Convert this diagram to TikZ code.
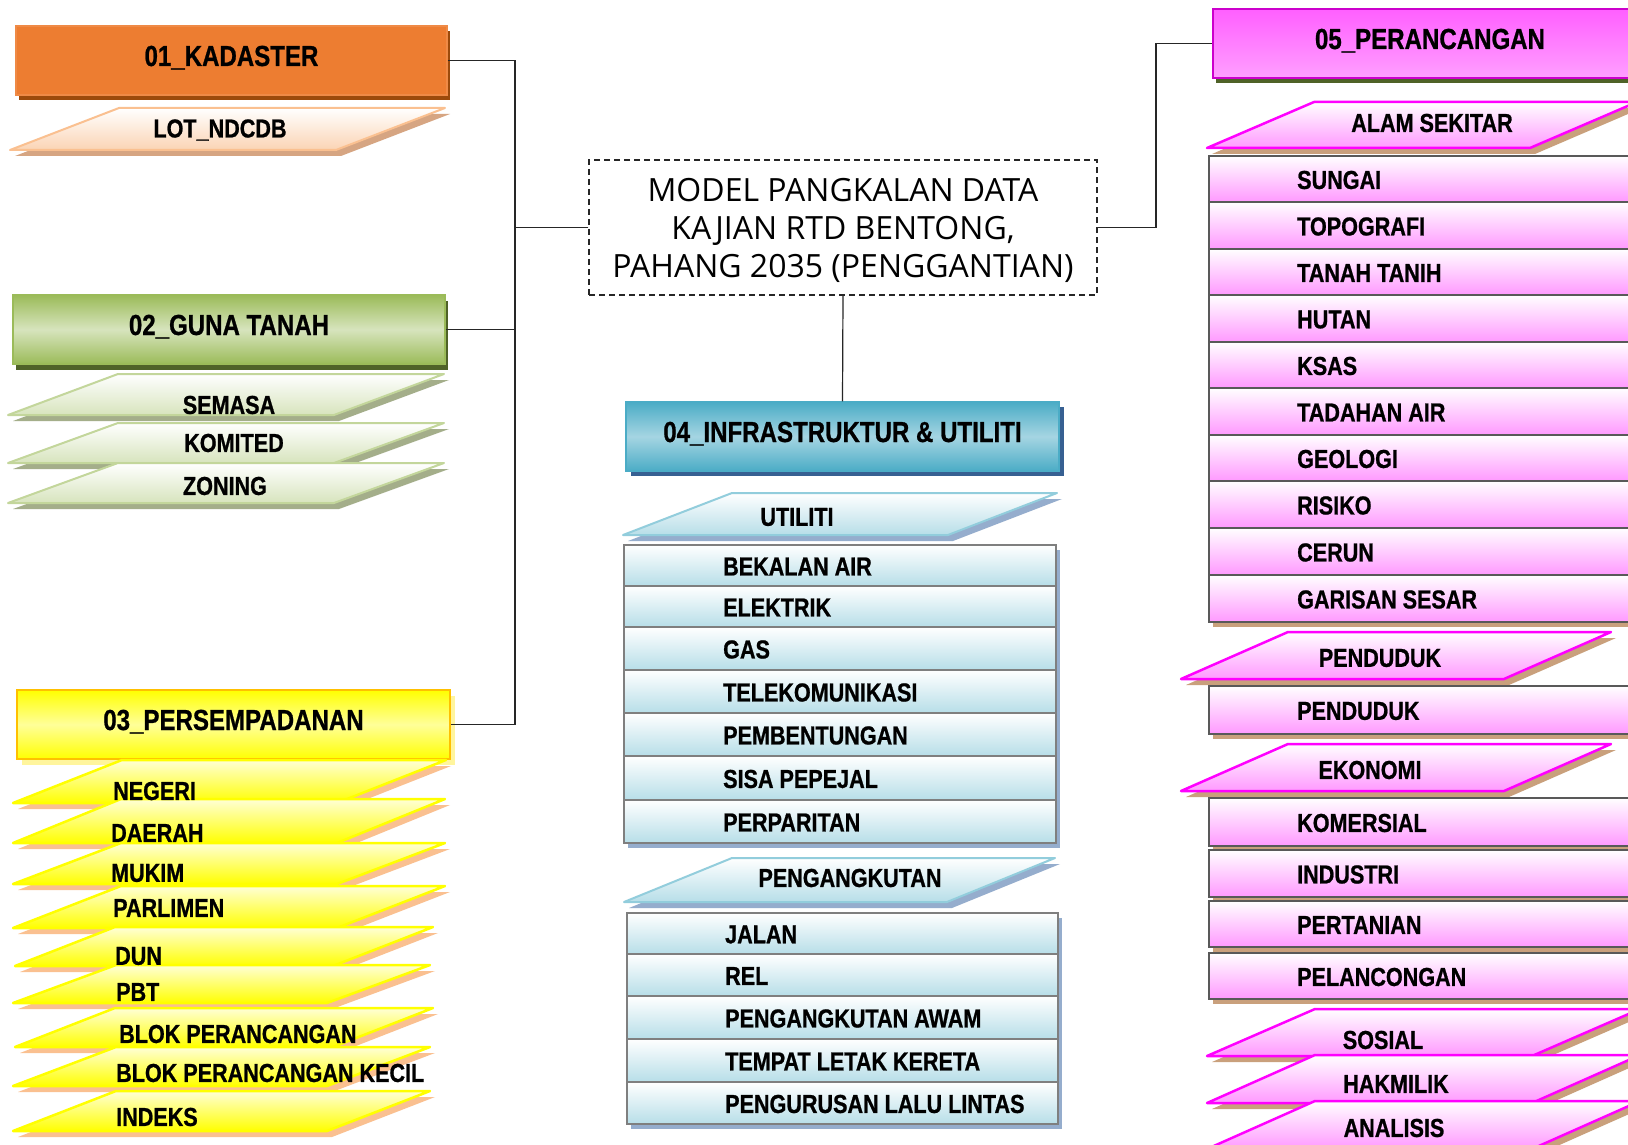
\documentclass[tikz,border=0pt]{standalone}
\usepackage{fontspec}
\newfontfamily\lbl[FakeStretch=0.83,BoldFeatures={FakeBold=0.8}]{Liberation Sans}
\newfontfamily\mainf{Open Sans}
\usetikzlibrary{shadows}
\definecolor{orgF}{HTML}{ED7D31}
\definecolor{orgS}{HTML}{9C4A0B}
\definecolor{peachB}{HTML}{FAC090}
\definecolor{peachF}{HTML}{FBD4B4}
\definecolor{peachS}{HTML}{D6A582}
\definecolor{grnD}{HTML}{9BBB59}
\definecolor{grnL}{HTML}{D7E4BD}
\definecolor{grnHS}{HTML}{4F6228}
\definecolor{grnB}{HTML}{C3D69B}
\definecolor{grnS}{HTML}{A4AE8A}
\definecolor{yelB}{HTML}{FFC000}
\definecolor{yelF}{HTML}{FFFF00}
\definecolor{yelL}{HTML}{FFFF99}
\definecolor{yelHS}{HTML}{FFF59D}
\definecolor{yelS}{HTML}{FAC090}
\definecolor{bluD}{HTML}{4BACC6}
\definecolor{bluL}{HTML}{A5D5E2}
\definecolor{bluHS}{HTML}{376092}
\definecolor{bluB}{HTML}{92CDDC}
\definecolor{bluF}{HTML}{B7DEE8}
\definecolor{bluS}{HTML}{95ADCD}
\definecolor{magT}{HTML}{FF5FFF}
\definecolor{magBt}{HTML}{FF9FFF}
\definecolor{magB}{HTML}{CC00CC}
\definecolor{magP}{HTML}{FF00FF}
\definecolor{magF}{HTML}{FF99FF}
\definecolor{tanS}{HTML}{C9A07C}
\definecolor{rowB}{HTML}{7F7F7F}
\definecolor{rowM}{HTML}{595959}
\newcommand\ppara[7]{%
  \fill[#7,shift={(5,6)}] (#3,#2) -- (#4,#2) -- ({#4+#5},#1) -- ({#3+#5},#1) -- cycle;
  \path[#6] (#3,#2) -- (#4,#2) -- ({#4+#5},#1) -- ({#3+#5},#1) -- cycle;}
\newcommand\prow[6]{%
  \fill[#6,shift={(4,5)}] (#1,#3) rectangle (#2,#4);
  \path[#5] (#1,#3) rectangle (#2,#4);}
\begin{document}
\begin{tikzpicture}[x=1pt,y=-1pt,
  hdr/.style={font=\lbl\bfseries\fontsize{29}{32}\selectfont, inner sep=0pt, line width=1.5pt,
    text height=21pt, text depth=10pt},
  itm/.style={font=\lbl\bfseries\fontsize{26}{30}\selectfont, inner sep=0pt},
  conn/.style={draw=black!85, line width=1.2pt},
  opara/.style={draw=peachB, line width=2pt, line join=round, top color=white, bottom color=peachF},
  gpara/.style={draw=grnB, line width=2pt, line join=round, top color=white, bottom color=grnL},
  ypara/.style={draw=yelF, line width=2.5pt, line join=round, top color=yelL!40, bottom color=yelF},
  bpara/.style={draw=bluB, line width=2pt, line join=round, top color=white, bottom color=bluF},
  mpara/.style={draw=magP, line width=2.5pt, line join=round, top color=white, bottom color=magF},
  brow/.style={draw=rowB, line width=2pt, top color=white, bottom color=bluF},
  mrow/.style={draw=rowM, line width=2pt, top color=white, bottom color=magF}]
\useasboundingbox (0,0) rectangle (1628,1145);
\clip (0,0) rectangle (1628,1145);
\fill[white] (0,0) rectangle (1628,1145);

% ---------- header boxes ----------
\node[hdr, minimum width=431pt, minimum height=69pt, fill=orgF, draw=orgF!90!white,
  drop shadow={shadow xshift=3pt, shadow yshift=-5pt, fill=orgS, opacity=1}] (k01) at (231.5,60.5) {01\_KADASTER};
\node[hdr, minimum width=432pt, minimum height=69pt, top color=grnD, bottom color=grnD, middle color=grnL, draw=grnD,
  drop shadow={shadow xshift=3pt, shadow yshift=-6pt, fill=grnHS, opacity=1}] (k02) at (229,329.5) {02\_GUNA TANAH};
\node[hdr, minimum width=433pt, minimum height=69pt, top color=yelF, bottom color=yelF, middle color=yelL, draw=yelB, line width=2.5pt,
  drop shadow={shadow xshift=5pt, shadow yshift=-6pt, fill=yelHS, opacity=1}] (k03) at (233.5,724.5) {03\_PERSEMPADANAN};
\node[hdr, minimum width=433pt, minimum height=69pt, top color=bluD, bottom color=bluD, middle color=bluL, draw=bluD,
  drop shadow={shadow xshift=5pt, shadow yshift=-5pt, fill=bluHS, opacity=1}] (k04) at (842.5,436.5) {04\_INFRASTRUKTUR \& UTILITI};
\node[hdr, minimum width=434pt, minimum height=69pt, top color=magT, bottom color=magBt, draw=magB,
  drop shadow={shadow xshift=3pt, shadow yshift=-5pt, fill=grnHS, opacity=1}] (k05) at (1430,43.5) {05\_PERANCANGAN};

% ---------- main box ----------
\node[draw=black!85, line width=1.3pt, dash pattern=on 6pt off 4pt, minimum width=508pt, minimum height=135pt,
  inner sep=0pt] (main) at (843,227.5) {};
\node[align=center, inner sep=0pt, font=\mainf\fontsize{32}{38}\selectfont] (maintxt) at (843,230.5)
  {MODEL PANGKALAN DATA\\KAJIAN RTD BENTONG,\\PAHANG 2035 (PENGGANTIAN)};

% ---------- 01 ----------
\ppara{108}{150}{10}{336}{109}{opara}{peachS}
\node[itm] (tlot) at (220,130) {LOT\_NDCDB};

% ---------- 02 ----------
\ppara{374}{415}{8}{334}{110}{gpara}{grnS}
\ppara{423}{463}{8}{334}{110}{gpara}{grnS}
\ppara{463}{503}{8}{334}{110}{gpara}{grnS}
\node[itm] (tsem) at (229,405) {SEMASA};
\node[itm] (tkom) at (234,443) {KOMITED};
\node[itm] (tzon) at (225,486) {ZONING};

% ---------- 03 ----------
\foreach \yt/\yb/\xl/\xr/\d in {
  760/803/13/337/109, 799/843/13/337/108, 843/884/13/337/108, 886/928/13/337/108,
  927/966/15/333/100, 965/1003/13/327/103, 1008/1047/15/333/100, 1047/1086/13/327/103,
  1091/1131/13/327/103}{
  \ppara{\yt}{\yb}{\xl}{\xr}{\d}{ypara}{yelS}
}
\foreach \tx/\ty/\t [count=\i] in {
  113/791/NEGERI, 111/833/DAERAH, 111/873/MUKIM, 113/908/PARLIMEN, 115/956/DUN,
  116/992/PBT, 119/1034/BLOK PERANCANGAN, 116/1073/BLOK PERANCANGAN KECIL, 116/1117/INDEKS}{
  \node[itm, anchor=west] (y\i) at (\tx,\ty) {\t};
}

% ---------- 04 ----------
\ppara{493}{535}{623}{948}{109}{bpara}{bluS}
\node[itm] (tutil) at (797,517) {UTILITI};
\foreach \a/\b/\t [count=\i] in {545/586/BEKALAN AIR, 586/627/ELEKTRIK, 627/670/GAS,
  670/713/TELEKOMUNIKASI, 713/756/PEMBENTUNGAN, 756/800/SISA PEPEJAL, 800/843/PERPARITAN}{
  \prow{624}{1056}{\a}{\b}{brow}{bluS}
  \node[itm, anchor=west] (u\i) at (723,{(\a+\b)/2+1}) {\t};
}
\ppara{858}{902}{624}{947}{108}{bpara}{bluS}
\node[itm] (tpeng) at (850,878) {PENGANGKUTAN};
\foreach \a/\b/\t [count=\i] in {913/954/JALAN, 954/996/REL, 996/1039/PENGANGKUTAN AWAM,
  1039/1082/TEMPAT LETAK KERETA, 1082/1124/PENGURUSAN LALU LINTAS}{
  \prow{627}{1058}{\a}{\b}{brow}{bluS}
  \node[itm, anchor=west] (p\i) at (725,{(\a+\b)/2+1}) {\t};
}

% ---------- 05 ----------
\ppara{102}{148}{1207}{1530}{107}{mpara}{tanS}
\node[itm] (talam) at (1432,123) {ALAM SEKITAR};
\foreach \a/\b/\t [count=\i] in {156/202/SUNGAI, 202/249/TOPOGRAFI, 249/295/TANAH TANIH,
  295/342/HUTAN, 342/388/KSAS, 388/435/TADAHAN AIR, 435/481/GEOLOGI, 481/528/RISIKO,
  528/575/CERUN, 575/622/GARISAN SESAR}{
  \prow{1209}{1650}{\a}{\b}{mrow}{tanS}
  \node[itm, anchor=west] (m\i) at (1297,{(\a+\b)/2+1}) {\t};
}
\ppara{632}{679}{1181}{1504}{107}{mpara}{tanS}
\node[itm] (tpendh) at (1380,658) {PENDUDUK};
\prow{1209}{1650}{686}{734}{mrow}{tanS}
\node[itm, anchor=west] (tpend) at (1297,711) {PENDUDUK};
\ppara{744}{791}{1181}{1504}{107}{mpara}{tanS}
\node[itm] (tekon) at (1370,770) {EKONOMI};
\foreach \a/\b/\t [count=\i] in {798/846/KOMERSIAL, 850/897/INDUSTRI, 901/947/PERTANIAN, 953/999/PELANCONGAN}{
  \prow{1209}{1650}{\a}{\b}{mrow}{tanS}
  \node[itm, anchor=west] (e\i) at (1297,{(\a+\b)/2+1}) {\t};
}
\ppara{1009}{1056}{1207}{1532}{108}{mpara}{tanS}
\ppara{1055}{1103}{1207}{1532}{108}{mpara}{tanS}
\ppara{1101}{1149}{1207}{1532}{108}{mpara}{tanS}
\node[itm] (tsos) at (1383,1040) {SOSIAL};
\node[itm] (thak) at (1396,1084) {HAKMILIK};
\node[itm] (tana) at (1394,1128) {ANALISIS};

% ---------- connectors ----------
\coordinate (busL) at (515,227.5);
\coordinate (busR) at (1156,227.5);
\draw[conn] (k01.east) -- (k01.east -| busL) -- (k03.east -| busL) -- (k03.east);
\draw[conn] (k02.east) -- (k02.east -| busL);
\draw[conn] (main.west) -- (busL);
\draw[conn] (main.east) -- (busR) |- (k05.west);
\draw[conn] (main.south) -- (k04.north);
\end{tikzpicture}
\end{document}
